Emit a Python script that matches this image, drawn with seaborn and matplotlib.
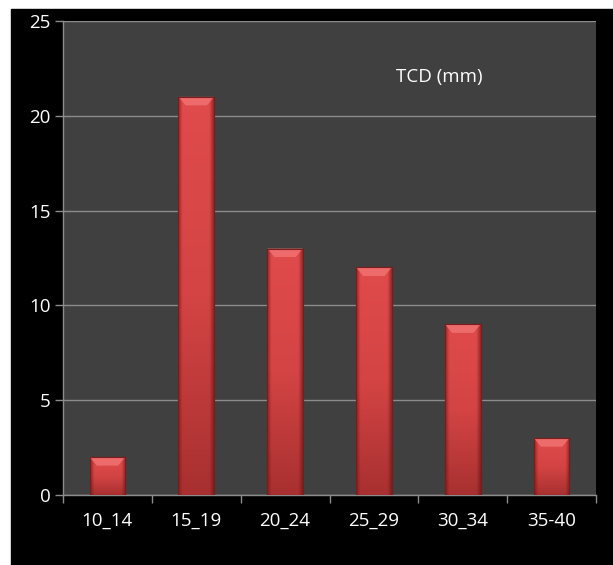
import numpy as np
import pandas as pd
import matplotlib
matplotlib.use("Agg")
import matplotlib.pyplot as plt
from matplotlib.patches import Polygon
from matplotlib.colors import LinearSegmentedColormap
import seaborn as sns

# TCD size classes (mm) and their counts
classes = ["10_14", "15_19", "20_24", "25_29", "30_34", "35-40"]
counts = [2, 21, 13, 12, 9, 3]
y_ticks = [0, 5, 10, 15, 20, 25]
series_label = "TCD (mm)"

df = pd.DataFrame({"classe": classes, "n": counts})

sns.set_theme(style="dark")
plt.rcParams["font.family"] = ["Open Sans", "DejaVu Sans"]

fig = plt.figure(figsize=(6.13, 5.65), dpi=100, facecolor="white")
# black chart area inside a thin white margin on the top and left
fig.patches.append(plt.Rectangle((11 / 613, 0), 1, 1 - 9 / 565,
                                 transform=fig.transFigure, color="black",
                                 zorder=-10))
ax = fig.add_axes([63 / 613, 1 - 495 / 565, (596 - 63) / 613, (495 - 21) / 565])
ax.set_facecolor("#404040")

sns.barplot(data=df, x="classe", y="n", ax=ax, color="#d24242",
            width=0.4, saturation=1, edgecolor="#7a1c1c", linewidth=0.8,
            zorder=3)

ax.set_yticks(y_ticks)
ax.set_yticklabels([str(t) for t in y_ticks])
ax.grid(axis="y", color="#8c8c8c", linewidth=1.0, zorder=1)
ax.grid(axis="x", visible=False)
ax.set_xlabel("")
ax.set_ylabel("")

# shading: vertical gradient, darker side edges and a lighter bevel on each bar top
grad = LinearSegmentedColormap.from_list("barshade", ["#a83030", "#d44444", "#e04b4b"])
side = LinearSegmentedColormap.from_list(
    "side", [(0.4, 0.07, 0.07, 0.0), (0.4, 0.07, 0.07, 0.6)])
for bar in list(ax.patches):
    x0, y0 = bar.get_x(), bar.get_y()
    w, h = bar.get_width(), bar.get_height()
    img = np.linspace(0, 1, 256).reshape(-1, 1)
    im = ax.imshow(img, cmap=grad, aspect="auto", origin="lower",
                   extent=(x0, x0 + w, y0, y0 + h), zorder=3.5)
    im.set_clip_path(bar)
    xs = np.linspace(0, 1, 64)
    prof = np.clip(np.maximum(1 - xs / 0.12, (xs - 0.88) / 0.12), 0, 1)
    sd = ax.imshow(prof.reshape(1, -1), cmap=side, aspect="auto",
                   extent=(x0, x0 + w, y0, y0 + h), zorder=3.6)
    sd.set_clip_path(bar)
    bev = 0.45
    ax.add_patch(Polygon([(x0, y0 + h), (x0 + w, y0 + h),
                          (x0 + w * 0.8, y0 + h - bev), (x0 + w * 0.2, y0 + h - bev)],
                         closed=True, facecolor="#f27474", edgecolor="none",
                         alpha=0.8, zorder=3.7))
    ax.add_patch(plt.Rectangle((x0, y0), w, h, facecolor="none",
                               edgecolor="#7a1c1c", linewidth=0.8, zorder=3.8))

ax.set_xlim(-0.5, len(classes) - 0.5)
ax.set_ylim(0, 25)

for s in ["top", "right"]:
    ax.spines[s].set_visible(False)
for s in ["left", "bottom"]:
    ax.spines[s].set_visible(True)
    ax.spines[s].set_color("#8c8c8c")
    ax.spines[s].set_linewidth(1.0)

ax.tick_params(axis="y", colors="#8c8c8c", labelcolor="white", length=6,
               width=1, labelsize=13.5, left=True, pad=3)
ax.tick_params(axis="x", colors="#8c8c8c", labelcolor="white", length=0,
               labelsize=13.5, pad=12)
# category separators on the x axis
ax.set_xticks(np.arange(-0.5, len(classes) + 0.5, 1.0), minor=True)
ax.tick_params(axis="x", which="minor", colors="#8c8c8c", length=6, width=1,
               bottom=True)

ax.text(3.74, 22.05, series_label, color="white", fontsize=13.5,
        ha="center", va="center")

fig.savefig("out.png", dpi=100, facecolor="white")
